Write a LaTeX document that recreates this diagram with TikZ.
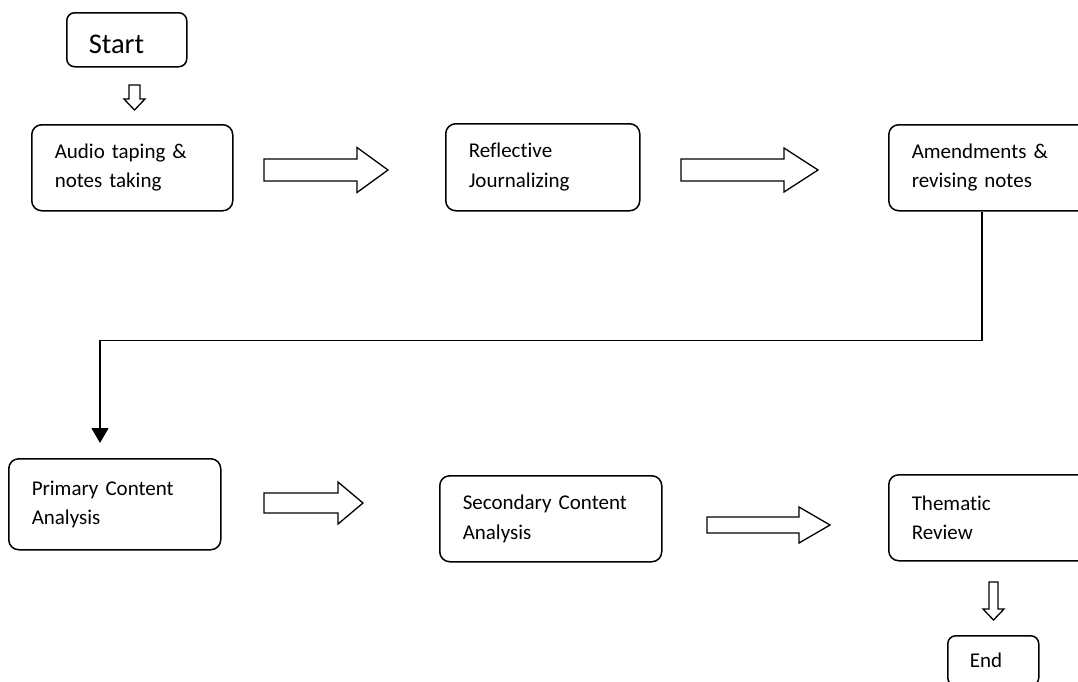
\documentclass[tikz,border=0pt]{standalone}
\usepackage{fontspec}
\setmainfont{Carlito}[Ligatures=CommonOff]
\usetikzlibrary{arrows.meta}

\tikzset{
	stage/.style={draw, rounded corners=10pt, line width=1.5pt, anchor=north west,
		inner xsep=23pt, inner ysep=0pt, align=left, font=\fontsize{21}{29.5}\selectfont},
	terminal/.style={stage, rounded corners=8pt, inner xsep=22pt},
	hollow/.style={draw, line width=1.3pt, line join=miter},
}

\begin{document}
\begin{tikzpicture}[x=1pt,y=-1pt]
	\useasboundingbox (0,0) rectangle (1078,681);
	% boxes
	\node[terminal, text width=76pt, minimum height=54pt, text height=28pt, text depth=0pt,
		font=\fontsize{28.5}{34}\selectfont](start) at (66,12){Start};
	\node[stage, text width=155pt, minimum height=86pt](audio) at (31,124){Audio taping \&\\notes taking};
	\node[stage, text width=148pt, minimum height=87pt](refl) at (445,123){Reflective\\Journalizing};
	\node[stage, text width=154pt, minimum height=86pt](amend) at (888,124){Amendments \&\\revising notes};
	\node[stage, text width=166pt, minimum height=91pt](prim) at (8,458){Primary Content\\Analysis};
	\node[stage, text width=176pt, minimum height=86pt](second) at (439,475){Secondary Content\\Analysis};
	\node[stage, text width=154pt, minimum height=86pt](theme) at (888,474){Thematic\\Review};
	\node[terminal, text width=47pt, minimum height=50pt](end) at (947,635){End};
	% block arrows
	\draw[hollow] (129,85) -- (140,85) -- (140,99) -- (145,99) -- (134.5,110) -- (124,99) -- (129,99) -- cycle;
	\draw[hollow] (264,159) -- (357,159) -- (357,147.5) -- (388,170) -- (357,192.5) -- (357,181) -- (264,181) -- cycle;
	\draw[hollow] (681,159) -- (784,159) -- (784,148) -- (818,170) -- (784,192) -- (784,181) -- (681,181) -- cycle;
	\draw[hollow] (264,493) -- (338,493) -- (338,482) -- (363,503) -- (338,524) -- (338,513) -- (264,513) -- cycle;
	\draw[hollow] (707,517) -- (799,517) -- (799,507) -- (830,525) -- (799,543) -- (799,533) -- (707,533) -- cycle;
	\draw[hollow] (989,582) -- (998,582) -- (998,609) -- (1004,609) -- (993.5,620) -- (983,609) -- (989,609) -- cycle;
	% connector
	\draw[line width=1.3pt, -{Triangle[width=17pt,length=15pt]}]
		([xshift=94pt]amend.south west) -- ++(0,129) -| ([xshift=92pt,yshift=15pt]prim.north west);
\end{tikzpicture}
\end{document}
